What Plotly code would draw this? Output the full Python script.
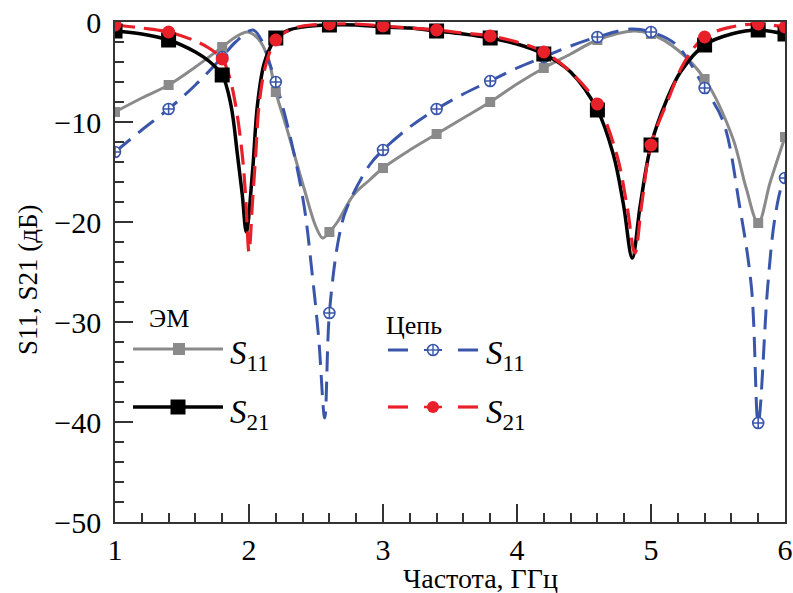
import numpy as np
import plotly.graph_objects as go

# ---------------- data ----------------
marker_x = [1.0, 1.4, 1.8, 2.2, 2.6, 3.0, 3.4, 3.8, 4.2, 4.6, 5.0, 5.4, 5.8, 6.0]

em_s11_x = [1.0, 1.2, 1.4, 1.6, 1.8, 1.9, 1.99, 2.07, 2.14, 2.2, 2.29, 2.41, 2.5, 2.55, 2.6,
            2.66, 2.78, 2.9, 3.0, 3.2, 3.4, 3.6, 3.8, 4.0, 4.2, 4.4, 4.6, 4.87, 5.0, 5.2,
            5.4, 5.61, 5.71, 5.8, 5.89, 6.0]
em_s11_y = [-9.0, -7.6, -6.3, -4.5, -2.5, -1.5, -1.0, -1.7, -3.5, -7.0, -11.0, -16.6, -20.5, -21.6, -21.0,
            -20.0, -17.3, -15.8, -14.6, -12.8, -11.2, -9.6, -8.0, -6.2, -4.6, -3.2, -1.8, -0.9, -1.2, -2.8,
            -5.7, -11.6, -16.6, -20.1, -16.0, -11.5]

em_s21_x = [1.0, 1.2, 1.4, 1.6, 1.7, 1.8, 1.865, 1.914, 1.95, 1.98, 2.026, 2.063, 2.11, 2.15, 2.2,
            2.3, 2.4, 2.6, 2.8, 3.0, 3.2, 3.4, 3.6, 3.8, 4.0, 4.2, 4.4, 4.6, 4.72, 4.795,
            4.86, 4.92, 5.0, 5.12, 5.22, 5.4, 5.6, 5.8, 6.0]
em_s21_y = [-0.9, -1.2, -1.8, -3.0, -3.9, -5.3, -8.3, -13.3, -17.3, -21.0, -15.0, -8.3, -4.3, -2.8, -1.6,
            -0.8, -0.5, -0.3, -0.3, -0.5, -0.6, -0.9, -1.2, -1.6, -2.2, -3.2, -5.0, -8.8, -13.3, -18.3,
            -23.6, -18.3, -12.3, -7.7, -5.0, -2.3, -1.2, -0.8, -1.2]

circ_s11_x = [1.0, 1.2, 1.4, 1.6, 1.8, 1.9, 2.03, 2.1, 2.15, 2.2, 2.31, 2.41, 2.47, 2.52, 2.565,
              2.6, 2.67, 2.73, 2.9, 3.0, 3.2, 3.4, 3.6, 3.8, 4.0, 4.2, 4.4, 4.6, 4.85, 5.0,
              5.19, 5.4, 5.54, 5.66, 5.75, 5.8, 5.87, 5.92, 5.97, 6.0]
circ_s11_y = [-13.0, -10.8, -8.7, -6.3, -3.5, -2.0, -0.8, -2.0, -4.0, -6.0, -11.6, -18.3, -25.0, -31.6, -39.6,
              -29.1, -21.6, -18.6, -14.3, -12.8, -10.5, -8.7, -7.2, -5.9, -4.6, -3.5, -2.4, -1.5, -0.7, -1.0,
              -2.3, -6.6, -10.0, -18.3, -26.6, -40.1, -26.6, -20.0, -16.6, -15.6]

circ_s21_x = [1.0, 1.2, 1.4, 1.6, 1.7, 1.8, 1.85, 1.9, 1.95, 1.975, 2.0, 2.026, 2.05, 2.075, 2.125,
              2.2, 2.3, 2.4, 2.6, 2.8, 3.0, 3.2, 3.4, 3.6, 3.8, 4.0, 4.2, 4.4, 4.6, 4.745,
              4.82, 4.88, 4.93, 5.0, 5.13, 5.25, 5.4, 5.6, 5.8, 6.0]
circ_s21_y = [-0.3, -0.6, -1.0, -1.9, -2.6, -3.7, -5.3, -8.3, -13.3, -17.5, -23.0, -18.0, -13.3, -8.3, -4.3,
              -1.8, -0.8, -0.4, -0.2, -0.2, -0.4, -0.6, -0.8, -1.1, -1.4, -2.0, -3.0, -5.0, -8.2, -13.3,
              -18.3, -23.1, -18.3, -12.3, -7.7, -4.0, -1.5, -0.5, -0.2, -0.5]

x_ticks = [1, 2, 3, 4, 5, 6]
y_ticks = [-50, -40, -30, -20, -10, 0]

# ---------------- styles ----------------
GREY = "#8a8a8a"
BLACK = "#000000"
BLUE = "#3a56aa"
RED = "#e8202a"
AX = "#333333"
FONT = "Liberation Serif"


def markers_of(xs, ys):
    xs = np.asarray(xs)
    ys = np.asarray(ys)
    m = np.isin(np.round(xs, 3), np.round(marker_x, 3))
    return xs[m], ys[m]


fig = go.Figure()

series = [
    (em_s11_x, em_s11_y, dict(color=GREY, width=3), dict(symbol="square", size=10, color=GREY)),
    (circ_s11_x, circ_s11_y, dict(color=BLUE, width=3, dash="20px,10px"),
     dict(symbol="circle-cross", size=11, color="white", line=dict(color=BLUE, width=1.6))),
    (em_s21_x, em_s21_y, dict(color=BLACK, width=3.5), dict(symbol="square", size=15, color=BLACK)),
    (circ_s21_x, circ_s21_y, dict(color=RED, width=3.2, dash="20px,9px"),
     dict(symbol="circle", size=13, color=RED)),
]

for xs, ys, line, mk in series:
    fig.add_trace(go.Scatter(x=xs, y=ys, mode="lines", line=dict(shape="spline", smoothing=1.0, **line),
                             showlegend=False, hoverinfo="skip"))
for xs, ys, line, mk in series:
    mx, my = markers_of(xs, ys)
    fig.add_trace(go.Scatter(x=mx, y=my, mode="markers", marker=mk, showlegend=False, hoverinfo="skip"))

# ---------------- manual legend (pixel positions converted to paper) ----------------
L, T, W, H = 115, 22, 670, 500


def px(x):
    return (x - L) / W


def py(y):
    return (T + H - y) / H


shapes = []
annotations = []


def leg_line(x0, x1, y, color, width, dash=None):
    d = dict(type="line", xref="paper", yref="paper", x0=px(x0), x1=px(x1), y0=py(y), y1=py(y),
             line=dict(color=color, width=width))
    if dash:
        d["line"]["dash"] = dash
    shapes.append(d)


def leg_box(cx, cy, half, color, kind="rect", fill=None, lw=0):
    shapes.append(dict(type=kind, xref="paper", yref="paper", xsizemode="pixel", ysizemode="pixel",
                       xanchor=px(cx), yanchor=py(cy), x0=-half, x1=half, y0=-half, y1=half,
                       fillcolor=fill if fill else color, line=dict(color=color, width=lw)))


def leg_text(x, y, text, size, xanchor="left", angle=0):
    annotations.append(dict(xref="paper", yref="paper", x=px(x), y=py(y), text=text, showarrow=False,
                            xanchor=xanchor, yanchor="middle", textangle=angle,
                            font=dict(family=FONT, size=size, color="black")))


# EM group
leg_text(169, 318, "ЭМ", 26, "center")
leg_line(133, 223, 349, GREY, 3)
leg_box(179, 349, 6, GREY)
leg_line(133, 223, 407, BLACK, 3.5)
leg_box(178, 407, 7.5, BLACK)
leg_text(228, 356, "<i>S</i><sub>11</sub>", 33)
leg_text(228, 414, "<i>S</i><sub>21</sub>", 33)

# Circuit group
leg_text(414, 325, "Цепь", 26, "center")
leg_line(388, 408, 350, BLUE, 3)
leg_line(458, 478, 350, BLUE, 3)
leg_line(424, 442, 350, BLUE, 2)
leg_box(433, 350, 5.5, BLUE, "circle", "white", 1.6)
shapes.append(dict(type="line", xref="paper", yref="paper", xsizemode="pixel", ysizemode="pixel",
                   xanchor=px(433), yanchor=py(350), x0=-5.5, x1=5.5, y0=0, y1=0, line=dict(color=BLUE, width=1.4)))
shapes.append(dict(type="line", xref="paper", yref="paper", xsizemode="pixel", ysizemode="pixel",
                   xanchor=px(433), yanchor=py(350), x0=0, x1=0, y0=-5.5, y1=5.5, line=dict(color=BLUE, width=1.4)))
leg_line(388, 408, 407, RED, 3.2)
leg_line(458, 478, 407, RED, 3.2)
leg_line(424, 442, 407, RED, 2.5)
leg_box(433, 407, 6, RED, "circle")
leg_text(484, 356, "<i>S</i><sub>11</sub>", 33)
leg_text(484, 414, "<i>S</i><sub>21</sub>", 33)

# axis titles
leg_text(480, 578, "Частота, ГГц", 28, "center")
leg_text(28, 280, "S11, S21 (дБ)", 27, "center", -90)

axis_common = dict(
    showgrid=False, zeroline=False, showline=True, linecolor=AX, linewidth=1.6, mirror=True,
    ticks="inside", ticklen=18, tickwidth=1.6, tickcolor=AX, automargin=False,
    tickfont=dict(family=FONT, size=30, color="black"),
)

fig.update_layout(
    width=793, height=593,
    margin=dict(l=L, r=793 - L - W, t=T, b=593 - T - H, autoexpand=False),
    paper_bgcolor="white", plot_bgcolor="white",
    font=dict(family=FONT, color="black"),
    xaxis=dict(range=[1, 6], tickvals=x_ticks, ticktext=[str(v) for v in x_ticks], ticklabelstandoff=0,
               minor=dict(dtick=0.2, ticks="inside", ticklen=9, tickwidth=1.6, tickcolor=AX),
               **axis_common),
    yaxis=dict(range=[-50, 0], tickvals=y_ticks, ticklabelstandoff=6,
               minor=dict(dtick=2, ticks="inside", ticklen=9, tickwidth=1.6, tickcolor=AX),
               **axis_common),
    shapes=shapes,
    annotations=annotations,
)

fig.write_html(
    "out.html",
    config={"displayModeBar": False},
    post_script="document.body.style.margin='0';document.body.style.overflow='hidden';",
)
